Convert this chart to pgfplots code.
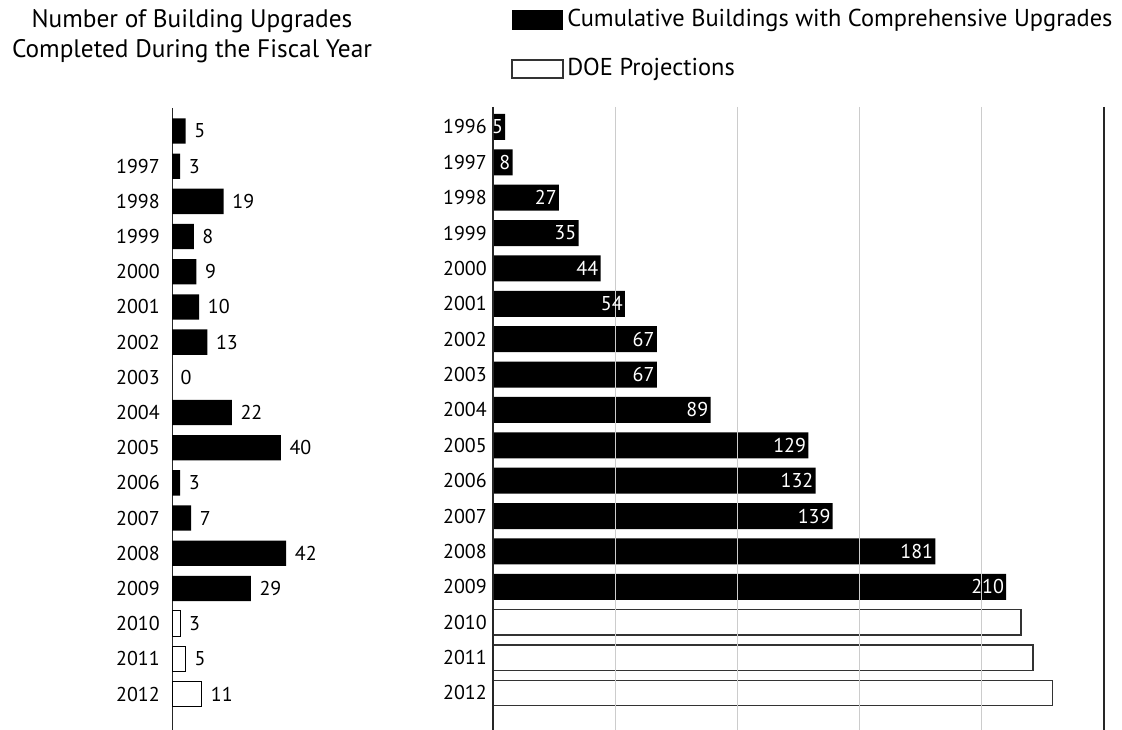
\documentclass[border=0pt]{standalone}
\usepackage{pgfplots}
\usepackage{pgfplotstable}
\usepackage{fontspec}
\setmainfont{PT Sans}
\pgfplotsset{compat=1.18}

\pgfplotstableread{
row val
0 5
1 8
2 27
3 35
4 44
5 54
6 67
7 67
8 89
9 129
10 132
11 139
12 181
13 210
}\cumdata
\pgfplotstableread{
row val
14 216
15 221
16 229
}\projdata
\pgfplotstableread{
row val
0 5
1 3
2 19
3 8
4 9
5 10
6 13
7 0
8 22
9 40
10 3
11 7
12 42
13 29
}\annual
\pgfplotstableread{
row val
14 3
15 5
16 11
}\annualproj

\begin{document}
\begin{tikzpicture}
\path[use as bounding box] (0,0) rectangle (841.5pt,547.5pt);

% titles / legend
\node[align=center, font=\fontsize{19}{22.5}\selectfont, inner sep=0pt] at (144pt,520.5pt)
  {Number of Building Upgrades\\Completed During the Fiscal Year};
\fill[black] (384pt,525pt) rectangle (422.25pt,540pt);
\node[anchor=west, font=\fontsize{18.3}{20}\selectfont, inner sep=0pt] at (425.25pt,532.5pt)
  {Cumulative Buildings with Comprehensive Upgrades};
\draw[black!80, line width=0.8pt, fill=white] (384pt,489pt) rectangle (422.25pt,502.5pt);
\node[anchor=west, font=\fontsize{18.3}{20}\selectfont, inner sep=0pt] at (425.25pt,495.75pt)
  {DOE Projections};

% left panel
\begin{axis}[
  at={(129pt,0pt)}, anchor=south west,
  scale only axis, width=122.4pt, height=466.5pt,
  xmin=0, xmax=60, ymin=-0.654, ymax=17.023, y dir=reverse,
  axis y line=left, axis x line=none,
  y axis line style={-, black!85, line width=0.75pt},
  ytick={0,...,16},
  yticklabels={{},1997,1998,1999,2000,2001,2002,2003,2004,2005,2006,2007,2008,2009,2010,2011,2012},
  major tick length=0pt,
  yticklabel style={font=\fontsize{15}{18}\selectfont, inner sep=0pt, anchor=east, xshift=-9pt},
  /pgf/number format/assume math mode=true,
  nodes near coords,
  every node near coord/.append style={font=\fontsize{15}{18}\selectfont, anchor=west, xshift=3pt, black},
  point meta=explicit,
  clip=false,
]
\addplot[xbar, fill=black, draw=none, bar width=19pt] table[x=val, y=row, meta=val]{\annual};
\addplot[xbar, fill=white, draw=black, line width=0.75pt, bar width=19pt] table[x=val, y=row, meta=val]{\annualproj};
\end{axis}

% right panel
\begin{axis}[
  at={(369.75pt,0pt)}, anchor=south west,
  scale only axis, width=458.25pt, height=467.25pt,
  xmin=0, xmax=250, ymin=-0.565, ymax=17.046, y dir=reverse,
  separate axis lines,
  x axis line style={draw=none},
  y axis line style={black!85, line width=1pt},
  axis on top,
  xtick={50,100,150,200}, xticklabels={},
  xmajorgrids, grid style={black!20, line width=1pt},
  ytick={0,...,16},
  yticklabels={1996,1997,1998,1999,2000,2001,2002,2003,2004,2005,2006,2007,2008,2009,2010,2011,2012},
  major tick length=0pt,
  yticklabel style={font=\fontsize{15}{18}\selectfont, inner sep=0pt, anchor=east, xshift=-4.5pt},
  /pgf/number format/assume math mode=true,
  clip=false,
]
\addplot[xbar, fill=black, draw=none, bar width=19.5pt,
  nodes near coords, point meta=explicit,
  every node near coord/.append style={font=\fontsize{15}{18}\selectfont, anchor=east, text=white, inner sep=1.5pt}]
  table[x=val, y=row, meta=val]{\cumdata};
\addplot[xbar, fill=white, draw=black!80, line width=1.1pt, bar width=19pt] table[x=val, y=row]{\projdata};
\end{axis}
\end{tikzpicture}
\end{document}
